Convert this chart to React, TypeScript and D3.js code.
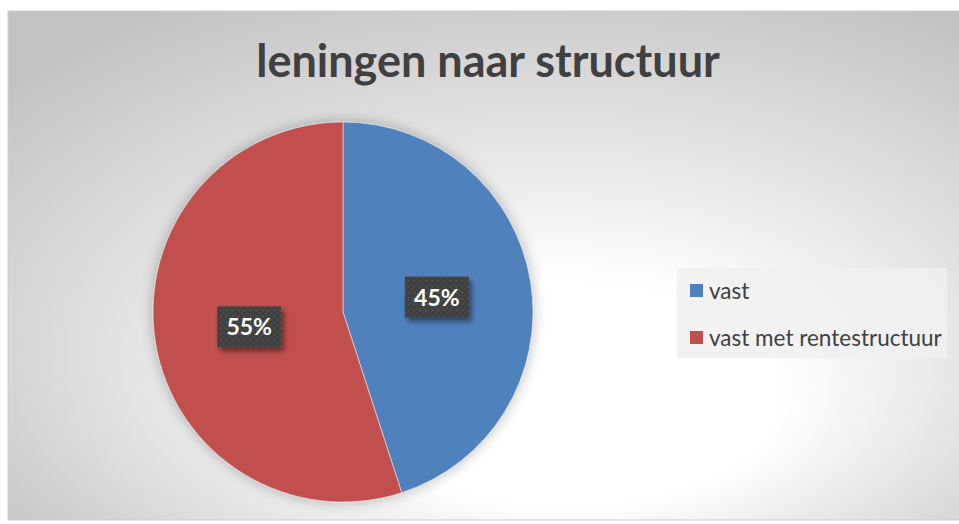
import React from "react";
import * as d3 from "d3";

const categories = ["vast", "vast met rentestructuur"];
const values = [45, 55];
const colors = ["#4f81bd", "#c0504d"];
const title = "leningen naar structuur";

const W = 959;
const H = 524;

export default function App() {
  const cx = 343;
  const cy = 312;
  const r = 190;
  const pie = d3.pie<number>().sort(null).value((d) => d);
  const arcs = pie(values);
  const arc = d3.arc<d3.PieArcDatum<number>>().innerRadius(0).outerRadius(r);
  const labelArc = d3.arc<d3.PieArcDatum<number>>().innerRadius(r / 2).outerRadius(r / 2);
  const total = d3.sum(values);
  const fmt = d3.format(".0%");
  const legendY = d3.scalePoint<string>().domain(categories).range([291, 338]);

  return (
    <svg
      width={W}
      height={H}
      style={{ position: "absolute", left: 0, top: 0, display: "block" }}
      fontFamily="Lato, 'Open Sans', sans-serif"
    >
      <defs>
        <radialGradient id="bg" cx="0.55" cy="0.6" r="0.72" fx="0.6" fy="0.82">
          <stop offset="0" stopColor="#ffffff" />
          <stop offset="0.3" stopColor="#ffffff" />
          <stop offset="1" stopColor="#c2c2c2" />
        </radialGradient>
        <filter id="pieShadow" x="-20%" y="-20%" width="140%" height="140%">
          <feGaussianBlur in="SourceAlpha" stdDeviation="7" />
          <feComponentTransfer>
            <feFuncA type="linear" slope="0.28" />
          </feComponentTransfer>
          <feMerge>
            <feMergeNode />
            <feMergeNode in="SourceGraphic" />
          </feMerge>
        </filter>
        <filter id="boxShadow" x="-30%" y="-30%" width="170%" height="170%">
          <feGaussianBlur in="SourceAlpha" stdDeviation="2.5" />
          <feOffset dx="3" dy="4" result="b" />
          <feComponentTransfer>
            <feFuncA type="linear" slope="0.45" />
          </feComponentTransfer>
          <feMerge>
            <feMergeNode />
            <feMergeNode in="SourceGraphic" />
          </feMerge>
        </filter>
        <pattern id="dots" width="6" height="6" patternUnits="userSpaceOnUse">
          <rect width="6" height="6" fill="#404040" />
          <circle cx="1.5" cy="1.5" r="0.9" fill="#5a5a5a" />
          <circle cx="4.5" cy="4.5" r="0.9" fill="#505050" />
        </pattern>
      </defs>

      <rect x={8} y={11} width={W} height={509} fill="url(#bg)" stroke="#cfcfcf" strokeWidth={1} />

      <text
        x={488}
        y={77}
        textAnchor="middle"
        fontSize={45}
        fontWeight="bold"
        fill="#404040"
      >
        {title}
      </text>

      <g transform={`translate(${cx},${cy})`}>
        <g filter="url(#pieShadow)">
          {arcs.map((a, i) => (
            <path key={i} d={arc(a) || ""} fill={colors[i]} stroke="#e8e8e8" strokeWidth={0.6} />
          ))}
        </g>
        {arcs.map((a, i) => {
          const [lx, ly] = labelArc.centroid(a);
          const bw = 64;
          const bh = 41;
          return (
            <g key={"l" + i} transform={`translate(${lx},${ly})`}>
              <rect x={-bw / 2} y={-bh / 2} width={bw} height={bh} fill="url(#dots)" filter="url(#boxShadow)" />
              <text
                x={0}
                y={8.5}
                textAnchor="middle"
                fontSize={23}
                fontWeight="bold"
                fill="#ffffff"
              >
                {fmt(values[i] / total)}
              </text>
            </g>
          );
        })}
      </g>

      <rect x={677} y={268} width={270} height={90} fill="#f0f0f0" opacity={0.85} />
      {categories.map((c, i) => {
        const y = legendY(c) as number;
        return (
          <g key={c}>
            <rect x={690} y={y - 7} width={13} height={13} fill={colors[i]} />
            <text x={709} y={y + 7.5} fontSize={22.5} fill="#404040">
              {c}
            </text>
          </g>
        );
      })}
    </svg>
  );
}
